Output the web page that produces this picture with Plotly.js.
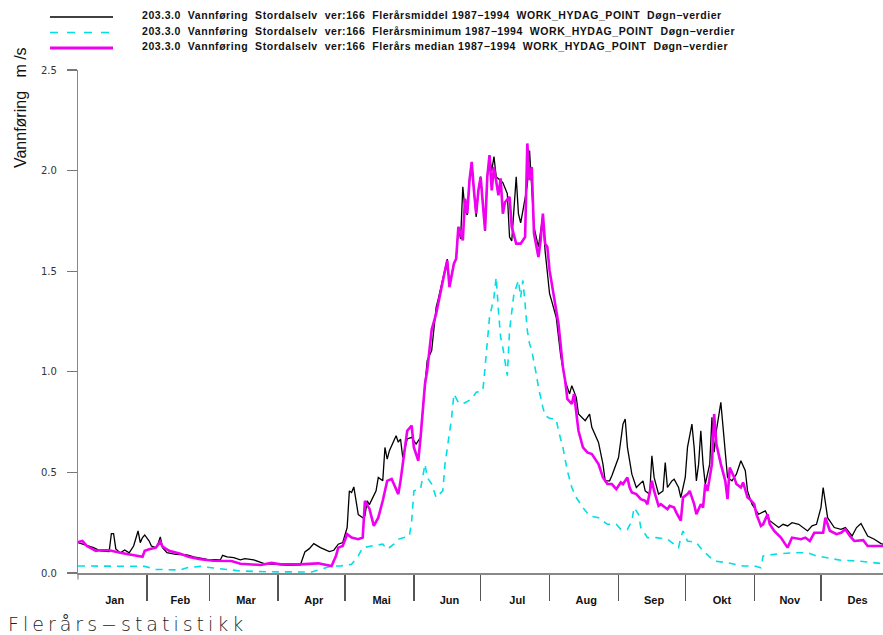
<!DOCTYPE html>
<html>
<head>
<meta charset="utf-8">
<script src="https://cdn.plot.ly/plotly-3.0.1.min.js"></script>
<style>
  html, body { margin: 0; padding: 0; background: #fff; }
  #chart { width: 883px; height: 635px; }
</style>
</head>
<body>
<div id="chart"></div>
<script>
// Day of year (0 = 1 January) and daily discharge, m3/s
const meanDays = [0,2,5,7,10,14,15,16,17,19,21,23,25,27,28,29,30,32,33,35,36,37,38,40,44,49,52,58,64,65,67,70,73,75,79,84,90,94,100,102,104,106,109,113,115,117,119,121,122,123,124,126,128,129,
  130,131,134,135,137,138,139,140,143,144,145,146,148,150,152,154,156,157,159,160,161,162,163,165,166,167,169,170,171,172,173,174,175,176,177,178,179,180,181,182,183,184,185,186,187,188,189,191,193,194,195,197,198,199,200,202,203,204,205,207,208,209,210,212,213,215,217,219,221,222,224,225,228,230,231,234,236,237,239,240,243,245,246,247,249,251,254,255,257,258,259,261,263,264,265,267,268,270,271,273,274,276,277,278,279,280,281,282,284,285,286,287,289,291,292,294,296,298,300,301,303,306,309,311,313,315,317,319,321,324,328,330,332,334,335,337,340,343,345,348,350,352,355,358,361,363];
const meanFlow = [0.151,0.144,0.13,0.126,0.11,0.106,0.196,0.196,0.12,0.10,0.114,0.10,0.134,0.209,0.151,0.176,0.189,0.159,0.134,0.126,0.146,0.179,0.126,0.101,0.093,0.09,0.08,0.068,0.065,0.088,0.08,0.076,0.065,0.071,0.065,0.046,0.043,0.038,0.041,0.105,0.121,0.146,0.126,0.106,0.113,0.143,0.151,0.226,0.408,0.40,0.428,0.29,0.275,0.284,
  0.359,0.34,0.408,0.475,0.458,0.624,0.566,0.608,0.682,0.65,0.666,0.574,0.666,0.674,0.641,0.674,0.94,1.056,1.106,1.22,1.32,1.364,1.41,1.51,1.56,1.43,1.54,1.56,1.72,1.66,1.92,1.80,1.78,1.95,2.04,1.90,1.77,1.90,1.97,1.84,1.70,1.97,2.07,2.0,2.07,1.97,1.96,1.94,1.886,1.67,1.65,1.969,1.786,1.74,1.80,1.927,2.10,1.90,1.72,1.62,1.70,1.78,1.60,1.388,1.35,1.27,1.08,0.956,0.89,0.931,0.873,0.79,0.757,0.79,0.724,0.649,0.541,0.458,0.458,0.483,0.574,0.74,0.765,0.624,0.491,0.425,0.458,0.408,0.392,0.583,0.475,0.392,0.408,0.549,0.425,0.458,0.466,0.425,0.375,0.475,0.624,0.74,0.624,0.458,0.541,0.707,0.541,0.442,0.541,0.774,0.60,0.707,0.848,0.624,0.475,0.458,0.491,0.558,0.508,0.408,0.342,0.292,0.309,0.26,0.242,0.226,0.242,0.234,0.25,0.242,0.209,0.234,0.242,0.325,0.425,0.275,0.226,0.217,0.226,0.184,0.226,0.246,0.184,0.168,0.146,0.14];

const minDays = [0,30,35,46,49,55,60,68,73,85,96,105,109,114,118,123,126,
  128,132,137,139,142,144,149,150,151,154,156,157,159,161,164,165,168,169,171,173,177,179,182,183,184,185,187,188,189,190,191,192,193,194,195,196,197,198,199,200,201,202,203,204,206,207,209,210,212,215,216,218,220,222,224,227,230,234,238,242,244,247,249,250,252,253,256,260,265,268,270,271,272,274,278,281,286,292,295,299,304,307,308,313,322,328,332,337,343,350,358,363];
const minFlow = [0.035,0.033,0.018,0.015,0.026,0.033,0.026,0.018,0.01,0.006,0.006,0.005,0.018,0.035,0.035,0.043,0.085,
  0.126,0.134,0.143,0.118,0.143,0.168,0.184,0.259,0.408,0.417,0.541,0.475,0.442,0.375,0.408,0.541,0.774,0.89,0.848,0.84,0.865,0.898,0.906,1.022,1.155,1.271,1.371,1.47,1.305,1.172,1.12,1.039,0.981,1.205,1.305,1.39,1.421,1.454,1.37,1.454,1.338,1.205,1.139,1.106,0.99,0.923,0.823,0.782,0.769,0.765,0.707,0.624,0.508,0.425,0.375,0.325,0.284,0.275,0.242,0.242,0.217,0.217,0.259,0.325,0.292,0.226,0.176,0.176,0.168,0.143,0.126,0.176,0.209,0.159,0.151,0.11,0.06,0.051,0.043,0.035,0.035,0.026,0.085,0.093,0.101,0.101,0.085,0.076,0.063,0.06,0.051,0.045];

const medianDays = [0,2,4,8,10,14,19,25,29,30,32,35,37,38,41,46,50,55,61,69,73,82,87,91,100,108,113,114,116,117,119,121,123,126,128,
  129,131,133,135,137,139,141,144,145,148,150,151,153,154,156,157,158,159,161,163,165,166,167,169,170,171,173,174,175,176,177,178,179,180,181,182,183,184,185,186,187,189,190,191,192,194,195,197,199,201,202,203,204,205,207,208,209,210,211,212,214,215,216,218,219,220,222,223,225,227,229,231,234,236,238,240,242,244,245,247,248,249,251,253,255,256,258,259,261,262,265,266,268,269,270,271,272,274,275,277,278,280,281,282,283,285,286,287,289,291,292,293,295,296,298,299,301,302,304,305,307,308,310,311,313,316,319,321,325,327,329,331,335,336,338,341,343,345,347,349,353,355,363];
const medianFlow = [0.154,0.159,0.134,0.11,0.113,0.113,0.101,0.09,0.081,0.11,0.118,0.126,0.156,0.131,0.11,0.096,0.08,0.068,0.061,0.06,0.046,0.04,0.05,0.043,0.043,0.048,0.038,0.035,0.085,0.126,0.134,0.193,0.176,0.168,0.176,
  0.359,0.32,0.234,0.275,0.359,0.458,0.467,0.392,0.458,0.707,0.732,0.624,0.558,0.674,0.94,1.006,1.106,1.21,1.288,1.404,1.504,1.554,1.421,1.537,1.562,1.72,1.653,1.861,1.786,1.952,2.043,1.902,1.786,1.902,1.969,1.836,1.703,1.969,2.077,1.902,2.018,1.877,1.961,1.786,1.844,1.869,1.72,1.637,1.637,1.67,2.135,1.952,2.018,1.687,1.57,1.653,1.786,1.637,1.62,1.504,1.371,1.30,1.239,1.023,0.956,0.865,0.84,0.89,0.707,0.624,0.599,0.591,0.541,0.475,0.442,0.442,0.417,0.45,0.442,0.475,0.425,0.40,0.392,0.367,0.359,0.342,0.458,0.408,0.334,0.342,0.317,0.334,0.325,0.30,0.28,0.26,0.375,0.392,0.408,0.342,0.292,0.342,0.325,0.442,0.408,0.541,0.79,0.641,0.541,0.458,0.367,0.524,0.475,0.442,0.425,0.45,0.375,0.367,0.342,0.292,0.234,0.242,0.292,0.242,0.209,0.176,0.126,0.176,0.168,0.176,0.159,0.20,0.20,0.275,0.21,0.193,0.20,0.217,0.184,0.159,0.163,0.134,0.134];

const seriesNames = [
  '203.3.0\u00a0 Vannføring\u00a0 Stordalselv\u00a0 ver:166\u00a0 Flerårsmiddel 1987\u22121994\u00a0 WORK_HYDAG_POINT\u00a0 Døgn\u2212verdier',
  '203.3.0\u00a0 Vannføring\u00a0 Stordalselv\u00a0 ver:166\u00a0 Flerårsminimum 1987\u22121994\u00a0 WORK_HYDAG_POINT\u00a0 Døgn\u2212verdier',
  '203.3.0\u00a0 Vannføring\u00a0 Stordalselv\u00a0 ver:166\u00a0 Flerårs median 1987\u22121994\u00a0 WORK_HYDAG_POINT\u00a0 Døgn\u2212verdier'
];
const monthNames = ['Jan','Feb','Mar','Apr','Mai','Jun','Jul','Aug','Sep','Okt','Nov','Des'];
const monthStarts = [0,31,59,90,120,151,181,212,243,273,304,334,365];
const yTicks = [0,0.5,1.0,1.5,2.0,2.5];
const yTitle = 'Vannføring\u00a0\u00a0 m\u00a0/s';
const footer = 'Flerårs\u2212statistikk';

// plot area in pixels, used to place the legend and the free texts
const W = 883, H = 635;
const PL = 78, PR = 883, PT = 70, PB = 572.6;
const fx = x => (x - PL) / (PR - PL);
const fy = y => (PB - y) / (PB - PT);

const lineColors = ['#000000', '#00dfe6', '#f000f0'];
const lineWidths = [1.3, 1.6, 2.6];
const lineDash = ['solid', '7px,6px', 'solid'];

const traces = [
  {x: meanDays, y: meanFlow, name: seriesNames[0]},
  {x: minDays, y: minFlow, name: seriesNames[1]},
  {x: medianDays, y: medianFlow, name: seriesNames[2]}
].map((t, i) => Object.assign(t, {
  type: 'scatter', mode: 'lines', hoverinfo: 'skip',
  line: {color: lineColors[i], width: lineWidths[i], dash: lineDash[i]}
}));

const monthMid = monthNames.map((m, i) => (monthStarts[i] + monthStarts[i + 1]) / 2 + 1);

const shapes = [];
const annotations = [];
const legendRows = [17, 32.5, 48];
const legendText = [15, 31, 46.5];
seriesNames.forEach((n, i) => {
  shapes.push({type: 'line', xref: 'paper', yref: 'paper',
    x0: fx(50), x1: fx(113), y0: fy(legendRows[i]), y1: fy(legendRows[i]),
    line: {color: lineColors[i], width: i === 2 ? 3 : 1.6, dash: i === 1 ? '8px,9px' : 'solid'}});
  annotations.push({xref: 'paper', yref: 'paper', x: fx(140), y: fy(legendText[i]),
    xanchor: 'left', yanchor: 'middle', showarrow: false,
    text: '<span style="letter-spacing:0.55px">' + n + '</span>',
    font: {family: 'Liberation Sans, Arial, sans-serif', size: 10.5, color: '#111', weight: 'bold'}});
});
// y axis runs a little below zero
shapes.push({type: 'line', xref: 'paper', yref: 'paper', x0: 0, x1: 0, y0: 0, y1: fy(579),
  line: {color: '#888', width: 1.2}});

annotations.push({xref: 'paper', yref: 'paper', x: fx(20), y: fy(108), textangle: -90,
  xanchor: 'center', yanchor: 'middle', showarrow: false, text: yTitle,
  font: {family: 'Liberation Sans, Arial, sans-serif', size: 16, color: '#111'}});
annotations.push({xref: 'paper', yref: 'paper', x: fx(6), y: fy(624),
  xanchor: 'left', yanchor: 'middle', showarrow: false,
  text: '<span style="letter-spacing:4px">' + footer + '</span>',
  font: {family: 'DejaVu Sans, sans-serif', size: 19, color: '#222', weight: 300}});

const layout = {
  width: W, height: H,
  margin: {l: PL, r: W - PR, t: PT, b: H - PB, pad: 0},
  paper_bgcolor: '#fff', plot_bgcolor: '#fff',
  showlegend: false,
  xaxis: {
    range: [0, 361.9], showgrid: false, zeroline: false,
    showline: true, linecolor: '#888', linewidth: 1.5,
    tickmode: 'array', tickvals: monthMid, ticktext: monthNames,
    ticks: 'outside', ticklen: 16, tickcolor: 'rgba(0,0,0,0)',
    tickfont: {family: 'Liberation Sans, Arial, sans-serif', size: 11, color: '#111', weight: 'bold'},
    minor: {tickmode: 'array', tickvals: monthStarts.slice(1, 12), ticks: 'outside',
      ticklen: 26, tickwidth: 1.4, tickcolor: '#555', showgrid: false}
  },
  yaxis: {
    range: [0, 2.5], showgrid: false, zeroline: false,
    showline: true, linecolor: '#888', linewidth: 1.2,
    tickmode: 'array', tickvals: yTicks, tickformat: '.1f',
    ticks: 'outside', ticklen: 10, tickwidth: 1.2, tickcolor: '#777',
    ticklabelstandoff: 8,
    tickfont: {family: 'DejaVu Sans, sans-serif', size: 10, color: '#333'}
  },
  shapes: shapes,
  annotations: annotations
};

Plotly.newPlot('chart', traces, layout, {displayModeBar: false, staticPlot: true});
</script>
</body>
</html>
